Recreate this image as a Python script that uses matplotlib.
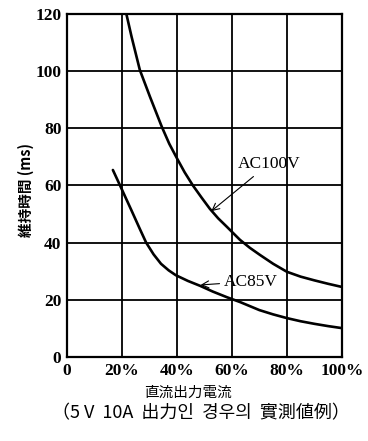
import matplotlib.pyplot as plt

# Values (hold-up time vs DC output current)
ac100_load = [21.6, 23.5, 26.5, 30.2, 34.5, 37.2, 40, 42.8, 45.8, 49, 52, 55, 58.2,
              62.9, 66.5, 70.2, 75, 80, 85, 90, 95, 100]
ac100_ms = [120, 112, 100.4, 91, 80.5, 74.6, 69.5, 64.6, 60, 55.7, 51.8, 48.5, 45.5,
            41, 38.2, 35.7, 32.6, 29.8, 28.1, 26.8, 25.6, 24.5]

ac85_load = [16.7, 19.3, 23.4, 26.5, 28.8, 31.5, 34.2, 37, 39.6, 44, 48.4,
             53, 58.2, 63, 70, 75, 80, 85, 90, 95, 100]
ac85_ms = [65.4, 60, 51.4, 44.8, 40, 35.9, 32.6, 30.3, 28.6, 26.6, 24.9,
           22.9, 20.9, 19.2, 16.4, 14.9, 13.6, 12.5, 11.6, 10.8, 10.1]

x_ticks = [0, 20, 40, 60, 80, 100]
x_tick_labels = ["0", "20%", "40%", "60%", "80%", "100%"]
y_ticks = [0, 20, 40, 60, 80, 100, 120]

SERIF = "Liberation Serif"
CJK = ["Noto Sans CJK JP", "Noto Sans CJK KR", "DejaVu Sans"]

fig = plt.figure(figsize=(3.68, 4.41), dpi=100)
ax = fig.add_axes([0.182, 0.1905, 0.747, 0.778])

for xs, ys in [(ac100_load, ac100_ms), (ac85_load, ac85_ms)]:
    ax.plot(xs, ys, color="black", lw=1.9, solid_capstyle="round",
            solid_joinstyle="round")

ax.set_xlim(0, 100)
ax.set_ylim(0, 120)
ax.set_xticks(x_ticks)
ax.set_xticklabels(x_tick_labels)
ax.set_yticks(y_ticks)
ax.tick_params(length=0, pad=4, labelsize=12.5)
for lab in ax.get_xticklabels() + ax.get_yticklabels():
    lab.set_fontfamily(SERIF)
    lab.set_fontweight("bold")
ax.grid(True, color="black", lw=1.3)
for sp in ax.spines.values():
    sp.set_linewidth(1.6)

# curve labels with arrows
ax.annotate("AC100V", xy=(52.5, 51), xytext=(62, 67.5),
            fontsize=12.5, family=SERIF, va="center", ha="left",
            arrowprops=dict(arrowstyle="->", lw=0.8, color="black",
                            shrinkA=2, shrinkB=0))
ax.annotate("AC85V", xy=(48.6, 25.2), xytext=(57, 26.4),
            fontsize=12.5, family=SERIF, va="center", ha="left",
            arrowprops=dict(arrowstyle="->", lw=0.8, color="black",
                            shrinkA=1, shrinkB=0))

fig.text(0.07, 0.57, "維持時間 (ms)", rotation=90, ha="center", va="center",
         fontsize=10.5, fontweight="bold", family=CJK)
fig.text(0.51, 0.109, "直流出力電流", ha="center", va="center",
         fontsize=10.5, family=CJK)
fig.text(0.545, 0.062, "（5 V  10A  出力인  경우의  實測値例）", ha="center", va="center",
         fontsize=13, family=CJK)

fig.savefig("out.png", dpi=100, facecolor="white")
